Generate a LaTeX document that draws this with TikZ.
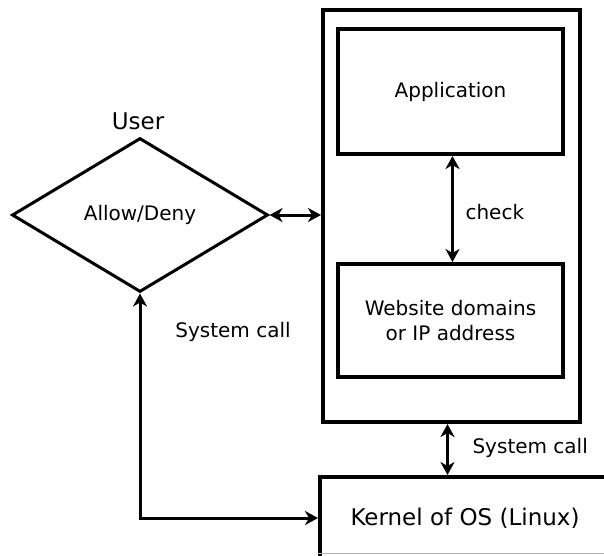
\documentclass[tikz,border=0pt]{standalone}
\usepackage{fontspec}
\setmainfont{DejaVu Sans}
\usetikzlibrary{arrows.meta,shapes.geometric,calc}

\begin{document}
\begin{tikzpicture}[x=1pt,y=-1pt,
  every node/.style={font=\fontsize{20}{25}\selectfont},
  big/.style={font=\fontsize{23}{28}\selectfont},
  box/.style={draw,line width=4pt,inner sep=0pt},
  link/.style={line width=3pt,
    {Stealth[length=13pt,width=14pt,inset=4pt]}-{Stealth[length=13pt,width=14pt,inset=4pt]}}]
\useasboundingbox (0,0) rectangle (604,555);
\node[box,minimum width=257pt,minimum height=412pt] (host) at (451.5,216) {};
\node[box,minimum width=225pt,minimum height=125pt] (app) at (450.5,91.5) {Application};
\node[box,minimum width=225pt,minimum height=113pt,align=center] (sites)
  at (450.5,320.5) {Website domains\\or IP address};
\node[draw,diamond,line width=3pt,inner sep=0pt,minimum width=256pt,
  minimum height=154pt] (user) at (140,215) {Allow/Deny};
\node[big] at (138,121) {User};
\node[box,big,minimum width=290pt,minimum height=82pt] (kernel) at (465,518)
  {Kernel of OS (Linux)};
\draw[gray!60,line width=1pt] (kernel.west |- 0,553) -- (604,553);
\draw[link] (user.east) -- (user.east -| host.west);
\draw[link] ([xshift=2pt]app.south) -- ([xshift=2pt]sites.north);
\node[anchor=west] at (462,212) {check};
\draw[link] ([xshift=-4pt]host.south) -- ([xshift=-4pt]host.south |- kernel.north);
\node[anchor=west] at (469,448) {System call};
\draw[link] (user.south) |- (kernel.west);
\node at (233,332) {System call};
\end{tikzpicture}
\end{document}
